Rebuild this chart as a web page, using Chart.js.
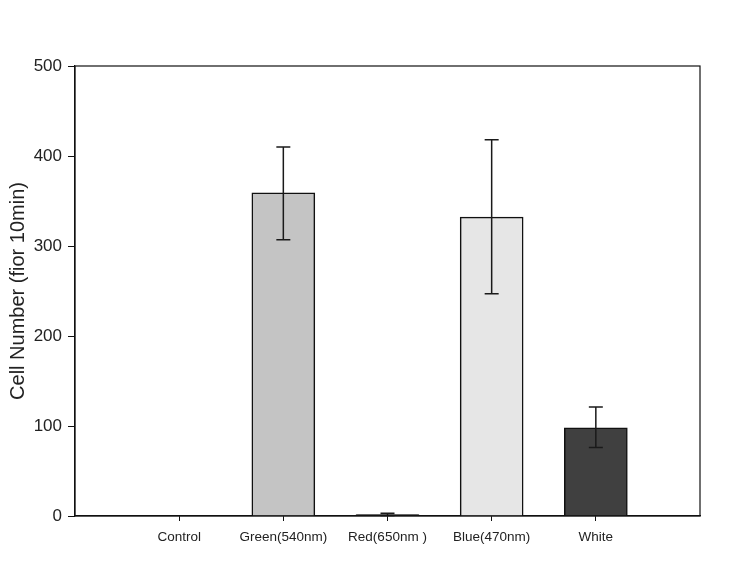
<!DOCTYPE html>
<html>
<head>
<meta charset="utf-8">
<script src="https://cdn.jsdelivr.net/npm/chart.js@4"></script>
<style>
  html, body { margin: 0; padding: 0; background: #fff; }
  #wrap { width: 734px; height: 564px; }
</style>
</head>
<body>
<div id="wrap"><canvas id="cellChart"></canvas></div>
<script>
// values
const categories = ['Control', 'Green(540nm)', 'Red(650nm )', 'Blue(470nm)', 'White'];
const cellCounts = [0, 359, 1.5, 332, 98];
const errLow = [0, 307, 0.5, 247, 76];
const errHigh = [0, 410, 3, 418, 121];
const barColors = ['#ffffff', '#c4c4c4', '#222222', '#e6e6e6', '#404040'];
const yTicks = [0, 100, 200, 300, 400, 500];

// pad with an empty slot at each end so bars sit 1/6 apart like the original
const labels = [''].concat(categories, ['']);
const padded = [null].concat(cellCounts, [null]);

// error bars + the closed frame around the plot
const errorBarPlugin = {
    id: 'errorBars',
    afterDatasetsDraw(chart) {
        const ctx = chart.ctx;
        const x = chart.scales.x;
        const y = chart.scales.y;
        ctx.save();
        ctx.strokeStyle = '#1a1a1a';
        ctx.lineWidth = 1.5;
        categories.forEach(function(cat, i) {
            if (errHigh[i] === errLow[i]) return;
            const px = x.getPixelForValue(i + 1);
            const top = y.getPixelForValue(errHigh[i]);
            const bot = y.getPixelForValue(errLow[i]);
            ctx.beginPath();
            ctx.moveTo(px, top); ctx.lineTo(px, bot);
            ctx.moveTo(px - 7, top); ctx.lineTo(px + 7, top);
            ctx.moveTo(px - 7, bot); ctx.lineTo(px + 7, bot);
            ctx.stroke();
        });
        const a = chart.chartArea;
        ctx.lineWidth = 1.2;
        ctx.strokeStyle = '#111';
        ctx.strokeRect(a.left, a.top, a.right - a.left, a.bottom - a.top);
        ctx.restore();
    }
};

const ctx = document.getElementById('cellChart').getContext('2d');

const config = {
    type: 'bar',
    data: {
        labels: labels,
        datasets: [{
            data: padded,
            backgroundColor: [null].concat(barColors, [null]),
            borderColor: '#111',
            borderWidth: 1.5,
            barThickness: 63
        }]
    },
    options: {
        responsive: true,
        maintainAspectRatio: false,
        animation: false,
        layout: { padding: { top: 66, right: 34, left: 6, bottom: 0 } },
        plugins: {
            legend: { display: false },
            tooltip: { enabled: false }
        },
        scales: {
            x: {
                offset: false,
                grid: {
                    display: true,
                    offset: false,
                    drawOnChartArea: false,
                    tickLength: 5,
                    tickColor: function(c) { return c.tick && c.tick.label ? '#111' : 'rgba(0,0,0,0)'; }
                },
                border: { color: '#111', width: 1.2 },
                ticks: {
                    autoSkip: false,
                    maxRotation: 0,
                    padding: 8,
                    color: '#222',
                    font: { family: 'Liberation Sans, Arial', size: 13.5 }
                },
                afterFit: function(scale) { scale.height = 48; }
            },
            y: {
                min: 0,
                max: 500,
                afterBuildTicks: function(scale) {
                    scale.ticks = yTicks.map(function(v) { return { value: v }; });
                },
                grid: {
                    display: true,
                    drawOnChartArea: false,
                    tickLength: 7,
                    tickColor: '#111'
                },
                border: { color: '#111', width: 1.2 },
                ticks: {
                    padding: 6,
                    color: '#222',
                    font: { family: 'Liberation Sans, Arial', size: 17 }
                },
                title: {
                    display: true,
                    text: 'Cell Number (fior 10min)',
                    color: '#222',
                    padding: 0,
                    font: { family: 'Liberation Sans, Arial', size: 20 }
                },
                afterFit: function(scale) { scale.width = 69; }
            }
        }
    },
    plugins: [errorBarPlugin]
};

const cellChart = new Chart(ctx, config);
</script>
</body>
</html>
